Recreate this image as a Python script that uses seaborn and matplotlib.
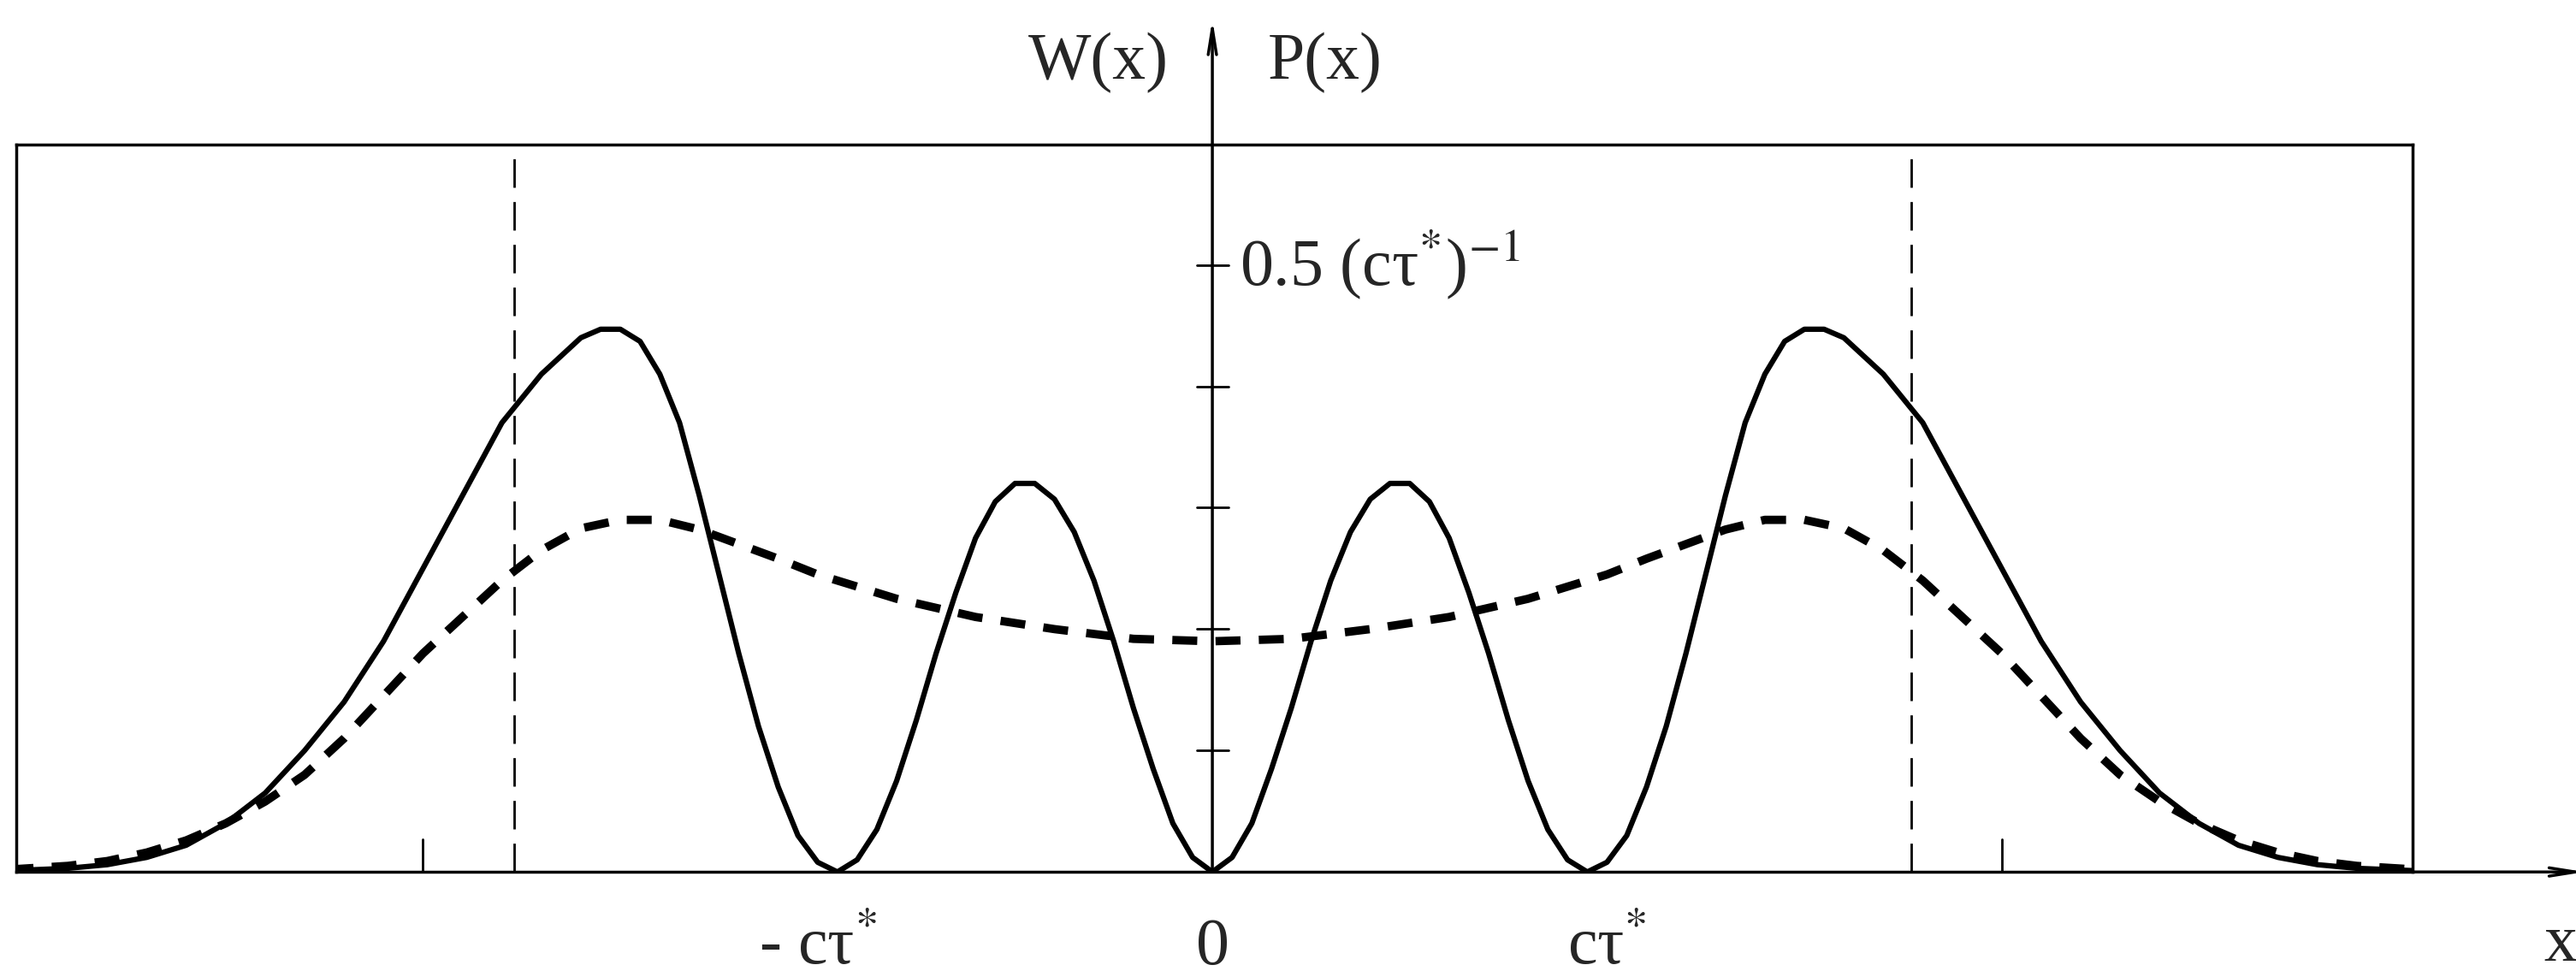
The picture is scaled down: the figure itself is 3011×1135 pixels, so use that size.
import numpy as np
import pandas as pd
import matplotlib
matplotlib.use("Agg")
import matplotlib.pyplot as plt
import seaborn as sns

sns.set_style("white")
plt.rcParams['font.family'] = ['Liberation Serif', 'DejaVu Serif']
plt.rcParams['mathtext.fontset'] = 'stix'

# solid curve W(x), right half (x in units of c*tau*); the curve is symmetric in x
x_right = [0.0, 0.05, 0.1, 0.15, 0.2, 0.25, 0.3, 0.35, 0.4, 0.45, 0.5, 0.55, 0.6, 0.65, 0.7,
           0.75, 0.8, 0.85, 0.9, 0.95, 1.0, 1.05, 1.1, 1.15, 1.2, 1.25, 1.3, 1.35, 1.4, 1.45,
           1.5, 1.55, 1.6, 1.65, 1.7, 1.75, 1.8, 1.85, 1.9, 1.95, 2.0, 2.1, 2.2, 2.3, 2.4,
           2.5, 2.6, 2.7, 2.8, 2.9, 3.05]
w_right = [0.0, 0.012, 0.04, 0.085, 0.135, 0.19, 0.24, 0.28, 0.307, 0.32, 0.32, 0.305, 0.275, 0.23, 0.18,
           0.125, 0.075, 0.035, 0.01, 0.0, 0.008, 0.03, 0.07, 0.12, 0.18, 0.245, 0.31, 0.37, 0.41, 0.437,
           0.447, 0.447, 0.44, 0.425, 0.41, 0.39, 0.37, 0.34, 0.31, 0.28, 0.25, 0.19, 0.14, 0.10, 0.065,
           0.04, 0.022, 0.012, 0.006, 0.003, 0.001]

# dashed curve P(x), right half
xp_right = [0.0, 0.2, 0.4, 0.6, 0.8, 1.0, 1.1, 1.2, 1.3, 1.4, 1.5, 1.6, 1.7, 1.8, 1.9, 2.0,
            2.1, 2.2, 2.3, 2.4, 2.5, 2.6, 2.7, 2.8, 2.9, 3.05]
p_right = [0.19, 0.192, 0.20, 0.21, 0.225, 0.245, 0.258, 0.27, 0.282, 0.29, 0.29, 0.283, 0.265, 0.24, 0.21, 0.18,
           0.145, 0.11, 0.08, 0.058, 0.04, 0.026, 0.016, 0.009, 0.005, 0.002]

y_ticks = [0.1, 0.2, 0.3, 0.4, 0.5]
side_ticks = [-2, 2]
guide_lines = [-1.77, 1.77]

df_w = pd.DataFrame({'x': [-v for v in x_right[::-1]] + x_right[1:],
                     'y': w_right[::-1] + w_right[1:]})
df_p = pd.DataFrame({'x': [-v for v in xp_right[::-1]] + xp_right[1:],
                     'y': p_right[::-1] + p_right[1:]})

fig = plt.figure(figsize=(30.11, 11.35), dpi=100)
ax = fig.add_axes([0.0064, 0.102, 0.93, 0.749])
sns.lineplot(data=df_w, x='x', y='y', ax=ax, color='black', lw=4.5, sort=False)
sns.lineplot(data=df_p, x='x', y='y', ax=ax, color='black', lw=7, sort=False)
ax.lines[-1].set_linestyle((0, (3, 2.2)))
ax.lines[-1].set_solid_capstyle('butt')

for g in guide_lines:
    ax.axvline(g, color='black', lw=2, linestyle=(0, (12, 6)))
for t in side_ticks:
    ax.plot([t, t], [0, 0.027], color='black', lw=2)
for t in y_ticks:
    ax.plot([-0.04, 0.04], [t, t], color='black', lw=2)

ax.set_xlim(-3.03, 3.04)
ax.set_ylim(0, 0.599)
ax.set_xticks([])
ax.set_yticks([])
ax.set_xlabel('')
ax.set_ylabel('')
for s in ax.spines.values():
    s.set_linewidth(2.5)
    s.set_color('black')

arrow = dict(arrowstyle='->,head_width=0.35,head_length=2.2', lw=2.5, color='black')
ax.annotate('', xy=(0, 1.176), xytext=(0, 0), xycoords=('data', 'axes fraction'),
            textcoords=('data', 'axes fraction'), arrowprops=arrow, annotation_clip=False)
ax.annotate('', xy=(1.073, 0), xytext=(0.99, 0), xycoords='axes fraction',
            arrowprops=dict(arrowstyle='->,head_width=0.35,head_length=2.2', lw=2.5, color='black'),
            annotation_clip=False)

fs = 56
ax.text(-1, -0.063, r'- cτ$^{*}$', ha='center', va='center', fontsize=fs)
ax.text(0, -0.063, '0', ha='center', va='center', fontsize=fs)
ax.text(1, -0.063, r'cτ$^{*}$', ha='center', va='center', fontsize=fs)
ax.text(0.07, 0.5, r'0.5 (cτ$^{*}$)$^{\mathrm{-1}}$', ha='left', va='center', fontsize=fs)
ax.text(-0.11, 1.07, 'W(x)', transform=ax.get_xaxis_transform(), ha='right', va='bottom', fontsize=fs)
ax.text(0.14, 1.07, 'P(x)', transform=ax.get_xaxis_transform(), ha='left', va='bottom', fontsize=fs)
ax.text(1.062, -0.1, 'x', transform=ax.transAxes, ha='center', va='center', fontsize=fs)

fig.savefig('out.png', dpi=100)
